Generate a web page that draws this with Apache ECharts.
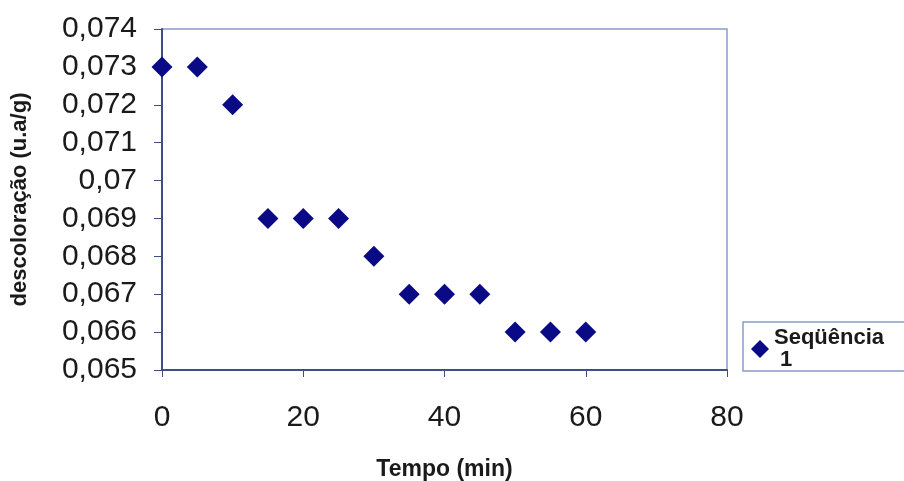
<!DOCTYPE html>
<html>
<head>
<meta charset="utf-8">
<script src="https://cdn.jsdelivr.net/npm/echarts@6/dist/echarts.min.js"></script>
<style>
  html, body { margin: 0; padding: 0; background: #fff; }
  #chart { width: 904px; height: 481px; }
</style>
</head>
<body>
<div id="chart"></div>
<script>
var tempo = [0, 5, 10, 15, 20, 25, 30, 35, 40, 45, 50, 55, 60];
var descoloracao = [0.073, 0.073, 0.072, 0.069, 0.069, 0.069, 0.068, 0.067, 0.067, 0.067, 0.066, 0.066, 0.066];
var serieNome = 'Seqüência 1';

var pontos = tempo.map(function (t, i) { return [t, descoloracao[i]]; });

var chart = echarts.init(document.getElementById('chart'));

var option = {
    backgroundColor: '#fff',
    animation: false,
    textStyle: { fontFamily: 'Liberation Sans, Arial, sans-serif' },
    grid: {
        left: 162, right: 177, top: 29, bottom: 111,
        outerBoundsMode: 'none',
        containLabel: false,
        show: true,
        borderColor: '#8a9acb',
        borderWidth: 1.5
    },
    legend: {
        data: [serieNome],
        left: 743,
        top: 322,
        orient: 'vertical',
        padding: [5, 10, 0, 8],
        borderColor: '#8a9acb',
        borderWidth: 1.5,
        itemWidth: 18,
        itemHeight: 18,
        itemGap: 4,
        textStyle: {
            fontSize: 22,
            fontWeight: 'bold',
            color: '#1a1a1a',
            width: 132,
            overflow: 'break',
            lineHeight: 22
        }
    },
    xAxis: {
        type: 'value',
        min: 0, max: 80, interval: 20,
        name: 'Tempo (min)',
        nameLocation: 'middle',
        nameGap: 88,
        nameTextStyle: { fontSize: 23, fontWeight: 'bold', color: '#1a1a1a' },
        axisLine: { lineStyle: { color: '#3e4e80', width: 2 } },
        axisTick: { show: true, length: 7, lineStyle: { color: '#3e4e80' } },
        axisLabel: { fontSize: 30, color: '#1a1a1a', margin: 33 },
        splitLine: { show: false }
    },
    yAxis: {
        type: 'value',
        min: 0.065, max: 0.074, interval: 0.001,
        name: 'descoloração (u.a/g)',
        nameLocation: 'middle',
        nameGap: 131,
        nameRotate: 90,
        nameTextStyle: { fontSize: 22, fontWeight: 'bold', color: '#1a1a1a' },
        axisLine: { show: true, lineStyle: { color: '#3e4e80', width: 2 } },
        axisTick: { show: true, length: 8, lineStyle: { color: '#3e4e80' } },
        axisLabel: {
            fontSize: 30, color: '#1a1a1a', margin: 25,
            formatter: function (v) { return String(+v.toFixed(3)).replace('.', ','); }
        },
        splitLine: { show: false }
    },
    series: [{
        name: serieNome,
        type: 'scatter',
        symbol: 'diamond',
        symbolSize: 21,
        itemStyle: { color: '#0a0a86', opacity: 1 },
        data: pontos
    }]
};

chart.setOption(option);
</script>
</body>
</html>
